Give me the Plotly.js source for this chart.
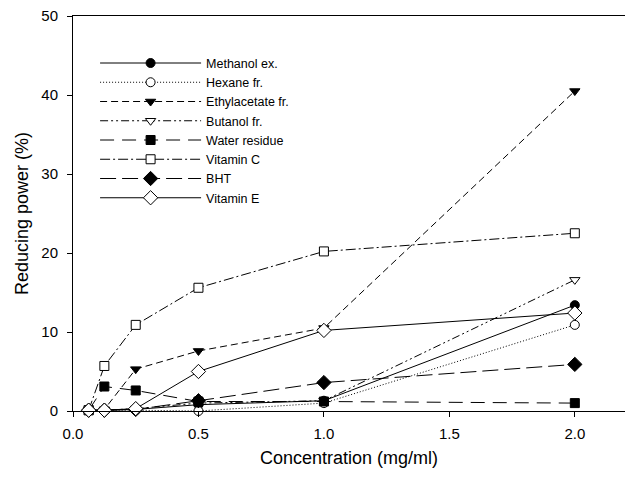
<!DOCTYPE html>
<html><head><meta charset="utf-8">
<script src="https://cdn.plot.ly/plotly-3.0.1.min.js"></script>
<style>html,body{margin:0;padding:0;background:#fff}#c{width:625px;height:477px}</style>
</head><body><div id="c"></div>
<script>
const conc = [0.0625, 0.125, 0.25, 0.5, 1.0, 2.0];
const methanol = [0.1, 0.1, 0.2, 0.8, 1.3, 13.4];
const hexane = [0.1, 0.1, 0.1, 0.0, 1.0, 10.9];
const ethylacetate = [0.1, 0.2, 5.3, 7.6, 10.5, 40.5];
const butanol = [0.1, 0.1, 0.3, 1.0, 1.3, 16.6];
const water = [0.1, 3.1, 2.6, 1.2, 1.2, 1.0];
const vitC = [0.1, 5.7, 10.9, 15.6, 20.2, 22.5];
const bht = [0.1, 0.1, 0.2, 1.3, 3.6, 5.9];
const vitE = [0.1, 0.1, 0.3, 5.0, 10.2, 12.4];
const names = ["Methanol ex.", "Hexane fr.", "Ethylacetate fr.", "Butanol fr.", "Water residue", "Vitamin C", "BHT", "Vitamin E"];
const xTicks = [0, 0.5, 1.0, 1.5, 2.0];
const yTicks = [0, 10, 20, 30, 40, 50];

const series = [methanol, hexane, ethylacetate, butanol, water, vitC, bht, vitE];
const styles = [
  {sym:'circle', fill:'black', dash:'solid'},
  {sym:'circle', fill:'white', dash:'1px,2px'},
  {sym:'triangle-down', fill:'black', dash:'7px,4px'},
  {sym:'triangle-down', fill:'white', dash:'8px,3px,2px,3px,2px,3px'},
  {sym:'square', fill:'black', dash:'14px,8px'},
  {sym:'square', fill:'white', dash:'10px,3px,2px,3px'},
  {sym:'diamond', fill:'black', dash:'16px,6px'},
  {sym:'diamond', fill:'white', dash:'solid'}
];
const traces = series.map((ys, i) => ({
  x: conc, y: ys, name: names[i], type: 'scatter', mode: 'lines+markers',
  line: {color: 'black', width: 1, dash: styles[i].dash},
  marker: {symbol: styles[i].sym, size: styles[i].sym==='diamond'?11:9, color: styles[i].fill, line: {color: 'black', width: 1}},
  cliponaxis: false
}));

const layout = {
  width: 625, height: 477,
  margin: {l: 73, r: 0, t: 16, b: 66},
  paper_bgcolor: 'white', plot_bgcolor: 'white',
  font: {family: 'Liberation Sans, Arial, sans-serif', color: 'black', size: 13},
  showlegend: true,
  legend: {x: 0.04, y: 0.918, xanchor: 'left', yanchor: 'top', bgcolor: 'rgba(0,0,0,0)', itemwidth: 101, font: {size: 12.5}, tracegroupgap: 0},
  xaxis: {range: [0, 2.2], tickvals: xTicks, ticktext: xTicks.map(v => v.toFixed(1)), showgrid: false, zeroline: false,
    showline: true, linecolor: 'black', linewidth: 1, mirror: true, ticks: 'outside', ticklen: 5, tickcolor: 'black',
    ticklabelstandoff: 4,
    title: {text: 'Concentration (mg/ml)', font: {size: 18}, standoff: 10}, tickfont: {size: 15}},
  yaxis: {range: [0, 50], tickvals: yTicks, showgrid: false, zeroline: false,
    showline: true, linecolor: 'black', linewidth: 1, ticks: 'outside', ticklen: 5, tickcolor: 'black',
    ticklabelstandoff: 6,
    title: {text: 'Reducing power (%)', font: {size: 18}, standoff: 8}, tickfont: {size: 15}}
};
Plotly.newPlot('c', traces, layout, {displayModeBar: false, staticPlot: true});
</script></body></html>
